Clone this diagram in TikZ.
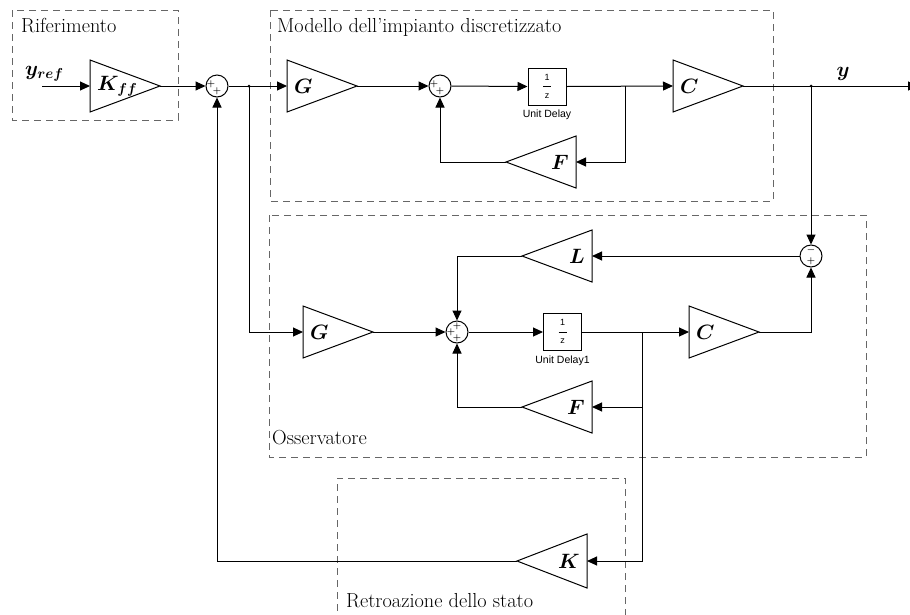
\documentclass[tikz,border=0pt]{standalone}
\usepackage{bm}
\usepackage{fontspec}
\newfontfamily\simfont{Liberation Sans}
\usetikzlibrary{arrows.meta}

% gain block pointing right: name, left x, centre y, half height, label
\newcommand\gainright[5]{%
  \draw[gainblk] (#2,#3-#4) -- (#2+70,#3) -- (#2,#3+#4) -- cycle;
  \coordinate (#1-in) at (#2,#3);
  \coordinate (#1-out) at (#2+70,#3);
  \node[gainlab, anchor=west] (#1-lab) at (#2+7,#3) {#5};
}
% gain block pointing left: name, right x, centre y, half height, label
\newcommand\gainleft[5]{%
  \draw[gainblk] (#2,#3-#4) -- (#2-70,#3) -- (#2,#3+#4) -- cycle;
  \coordinate (#1-in) at (#2,#3);
  \coordinate (#1-out) at (#2-70,#3);
  \node[gainlab, anchor=east] (#1-lab) at (#2-7,#3) {#5};
}

\begin{document}
\begin{tikzpicture}[x=1pt, y=-1pt,
  font=\fontsize{20.3}{24}\selectfont,
  wire/.style={line width=1pt},
  arr/.style={wire, -{Triangle[length=10pt,width=9pt]}},
  gainblk/.style={line width=1pt, line join=miter},
  gainlab/.style={inner sep=0pt},
  sumblk/.style={circle, draw, line width=1pt, minimum size=22pt, inner sep=0pt},
  sgn/.style={inner sep=0pt, font=\fontsize{9.5}{10}\selectfont},
  delay/.style={draw, line width=1pt, minimum width=38pt, minimum height=37pt, inner sep=0pt},
  delaylab/.style={inner sep=0pt, font=\simfont\fontsize{10.5}{12}\selectfont},
  region/.style={draw=black!60, line width=1pt, dash pattern=on 7pt off 5pt},
  title/.style={inner sep=0pt, anchor=base west},
  junct/.style={circle, fill, inner sep=0pt, minimum size=3pt}
]
\useasboundingbox (0,0) rectangle (910,614);

% ---- subsystem frames ----
\draw[region] (12,10) rectangle (178,120);
\draw[region] (270,10) rectangle (773,201);
\draw[region] (269,215) rectangle (866,457);
\draw[region] (625,640) -- (625,478) -- (337,478) -- (337,640);
\node[title] (t-rif) at (21,32) {Riferimento};
\node[title] (t-mod) at (277,32) {Modello dell’impianto discretizzato};
\node[title] (t-oss) at (272,444) {Osservatore};
\node[title] (t-ret) at (346,607) {Retroazione dello stato};

% ---- gains ----
\gainright{Kff}{90}{86}{26}{$\bm{K}_{\bm{ff}}$}
\gainright{G1}{287}{86}{26}{$\bm{G}$}
\gainright{C1}{673}{86}{26}{$\bm{C}$}
\gainleft{F1}{576}{162}{26}{$\bm{F}$}
\gainleft{L}{592}{256}{26}{$\bm{L}$}
\gainright{G2}{303}{332}{26}{$\bm{G}$}
\gainright{C2}{689}{332}{26}{$\bm{C}$}
\gainleft{F2}{592}{407}{26}{$\bm{F}$}
\gainleft{K}{587}{561}{27}{$\bm{K}$}

% ---- sums ----
\node[sumblk] (s1) at (217,86) {};
\node[sgn] (s1a) at (211,84) {$\bm{+}$};
\node[sgn] (s1b) at (217,91) {$\bm{+}$};
\node[sumblk] (s2) at (440,86) {};
\node[sgn] (s2a) at (434,84) {$\bm{+}$};
\node[sgn] (s2b) at (440,91) {$\bm{+}$};
\node[sumblk] (s3) at (811,256) {};
\node[sgn] (s3a) at (811,250) {$\bm{-}$};
\node[sgn] (s3b) at (811,261) {$\bm{+}$};
\node[sumblk] (s4) at (457,332) {};
\node[sgn] (s4a) at (457,326) {$\bm{+}$};
\node[sgn] (s4b) at (451,332) {$\bm{+}$};
\node[sgn] (s4c) at (457,338) {$\bm{+}$};

% ---- unit delays ----
\node[delay] (ud1) at (547,86.5) {};
\node[delaylab] (ud1n) at (547,77) {\fontsize{9}{9}\selectfont 1};
\node[delaylab] (ud1d) at (547,96) {\fontsize{9}{9}\selectfont z};
\draw[line width=0.6pt] (543,86.5) -- (551,86.5);
\node[delaylab] (ud1l) at (547,115) {Unit Delay};
\node[delay] (ud2) at (562.5,332) {};
\node[delaylab] (ud2n) at (562.5,322.5) {\fontsize{9}{9}\selectfont 1};
\node[delaylab] (ud2d) at (562.5,341.5) {\fontsize{9}{9}\selectfont z};
\draw[line width=0.6pt] (558.5,332) -- (566.5,332);
\node[delaylab] (ud2l) at (562.5,361) {Unit Delay1};

% ---- signal labels ----
\node[title] (yreflab) at (25,75) {$\bm{y}_{\bm{ref}}$};
\node[inner sep=0pt] (ylab) at (843,74) {$\bm{y}$};

% ---- branch points ----
\coordinate (yin) at (42,86);
\coordinate (b1) at (249,86);
\coordinate (b2) at (625,86);
\coordinate (b3) at (811,86);
\coordinate (yend) at (918,86);
\coordinate (b4) at (642,332);
\coordinate (b5) at (642,407);
\node[junct] (j1) at (b1) {};
\node[junct] (j3) at (b3) {};

% ---- plant model ----
\draw[arr] (yin) -- (Kff-in);
\draw[arr] (Kff-out) -- (s1.west);
\draw[arr] (s1.east) -- (G1-in);
\draw[arr] (G1-out) -- (s2.west);
\draw[arr] (s2.east) -- (ud1.west);
\draw[arr] (ud1.east) -- (C1-in);
\draw[arr] (b2) |- (F1-in);
\draw[arr] (F1-out) -| (s2.south);
\draw[arr] (C1-out) -- (yend);

% ---- observer ----
\draw[arr] (b3) -- (s3.north);
\draw[arr] (s3.west) -- (L-in);
\draw[arr] (L-out) -| (s4.north);
\draw[arr] (b1) |- (G2-in);
\draw[arr] (G2-out) -- (s4.west);
\draw[arr] (s4.east) -- (ud2.west);
\draw[arr] (ud2.east) -- (C2-in);
\draw[arr] (C2-out) -| (s3.south);
\draw[wire] (b4) -- (b5);
\draw[arr] (b5) -- (F2-in);
\draw[arr] (F2-out) -| (s4.south);

% ---- state feedback ----
\draw[arr] (b5) |- (K-in);
\draw[arr] (K-out) -| (s1.south);
\end{tikzpicture}
\end{document}
